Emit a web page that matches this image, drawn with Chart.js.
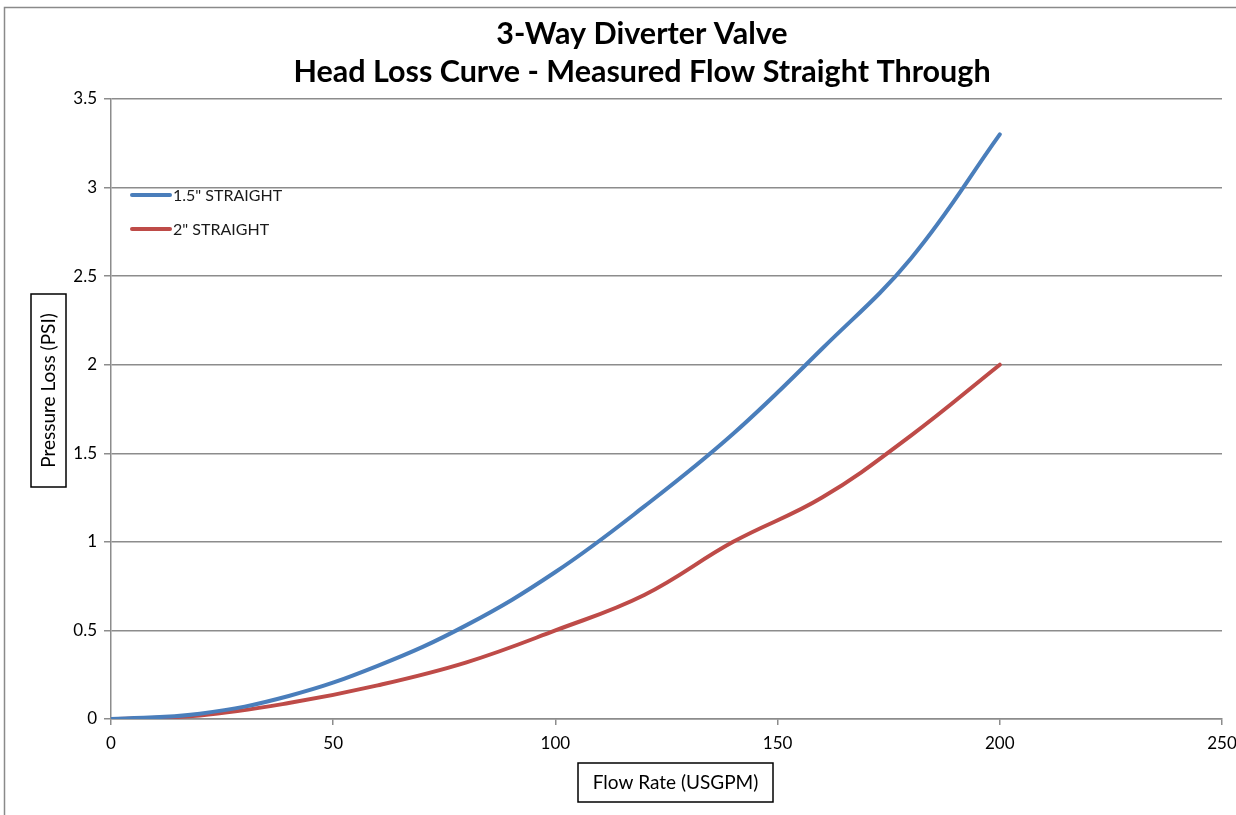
<!DOCTYPE html>
<html>
<head>
<meta charset="utf-8">
<script src="https://cdn.jsdelivr.net/npm/chart.js@4"></script>
<style>
  html, body { margin: 0; padding: 0; background: #fff; }
  #wrap { width: 1236px; height: 815px; }
</style>
</head>
<body>
<div id="wrap"><canvas id="chart" width="1236" height="815"></canvas></div>
<script>
// flow rate (USGPM) and measured pressure loss (PSI)
var flow = [0, 20, 40, 60, 80, 100, 120, 140, 160, 180, 200];
var straight15 = [0, 0.03, 0.13, 0.30, 0.53, 0.83, 1.20, 1.61, 2.09, 2.60, 3.30];
var straight2 = [0, 0.02, 0.09, 0.19, 0.32, 0.50, 0.70, 1.00, 1.25, 1.60, 2.00];
var seriesNames = ['1.5" STRAIGHT', '2" STRAIGHT'];
var titleLines = ['3-Way Diverter Valve', 'Head Loss Curve - Measured Flow Straight Through'];
var xTitle = 'Flow Rate (USGPM)';
var yTitle = 'Pressure Loss (PSI)';

var gridColor = '#8c8c8c';
var fontFam = 'Lato, "Open Sans", sans-serif';

function pts(ys) {
  var out = [];
  for (var i = 0; i < flow.length; i++) out.push({x: flow[i], y: ys[i]});
  return out;
}

// boxes, legend and frame drawn on top
var decor = {
  id: 'decor',
  afterDraw: function(chart) {
    var c = chart.ctx;
    c.save();
    // outer frame
    c.strokeStyle = '#8a8a8a';
    c.lineWidth = 1.5;
    c.strokeRect(4.5, 7.5, 1400, 1000);

    c.fillStyle = '#000';
    c.strokeStyle = '#000';
    c.lineWidth = 1.5;
    c.font = '19px ' + fontFam;
    c.textAlign = 'center';
    c.textBaseline = 'middle';

    // x axis title box
    c.strokeRect(578, 763, 195, 39);
    c.fillText(xTitle, 675.5, 783);

    // y axis title box
    c.strokeRect(31, 294, 35, 193);
    c.save();
    c.translate(49, 390.5);
    c.rotate(-Math.PI / 2);
    c.fillText(yTitle, 0, 0);
    c.restore();

    // legend inside plot
    var ds = chart.data.datasets;
    c.textAlign = 'left';
    c.font = '16px ' + fontFam;
    for (var i = 0; i < ds.length; i++) {
      var y = 195 + i * 34;
      c.strokeStyle = ds[i].borderColor;
      c.lineWidth = 4;
      c.lineCap = 'round';
      c.beginPath();
      c.moveTo(132, y);
      c.lineTo(170, y);
      c.stroke();
      c.fillStyle = '#1a1a1a';
      c.fillText(ds[i].label, 173, y + 1);
    }
    c.restore();
  }
};

var ctx = document.getElementById('chart').getContext('2d');
var chart = new Chart(ctx, {
  type: 'line',
  data: {
    datasets: [{
      label: seriesNames[0],
      data: pts(straight15),
      borderColor: '#4a7ebb',
      borderWidth: 4,
      pointRadius: 0,
      tension: 0.4,
      borderCapStyle: 'round'
    }, {
      label: seriesNames[1],
      data: pts(straight2),
      borderColor: '#be4b48',
      borderWidth: 4,
      pointRadius: 0,
      tension: 0.4,
      borderCapStyle: 'round'
    }]
  },
  options: {
    responsive: false,
    animation: false,
    layout: { padding: { left: 62, right: 14, top: 0, bottom: 0 } },
    plugins: {
      legend: { display: false },
      tooltip: { enabled: false },
      title: {
        display: true,
        text: titleLines,
        color: '#000',
        font: { family: fontFam, size: 30.5, weight: 'bold', lineHeight: 38 / 30.5 },
        padding: { top: 15, bottom: 8 }
      }
    },
    scales: {
      x: {
        type: 'linear',
        min: 0,
        max: 250,
        ticks: { stepSize: 50, color: '#000', font: { family: fontFam, size: 17 }, padding: 8, maxRotation: 0 },
        grid: { drawOnChartArea: false, color: gridColor, tickLength: 6, lineWidth: 1.5 },
        border: { color: gridColor, width: 1.5 },
        afterFit: function(s) { s.height = 96; s.paddingLeft = 0; s.paddingRight = 0; }
      },
      y: {
        min: 0,
        max: 3.5,
        ticks: {
          stepSize: 0.5, color: '#000', font: { family: fontFam, size: 17 }, padding: 7,
          callback: function(v) { return String(v); }
        },
        grid: { color: gridColor, tickLength: 7, lineWidth: 1.5 },
        border: { color: gridColor, width: 1.5 },
        afterFit: function(s) { s.width = 49; }
      }
    }
  },
  plugins: [decor]
});
</script>
</body>
</html>
